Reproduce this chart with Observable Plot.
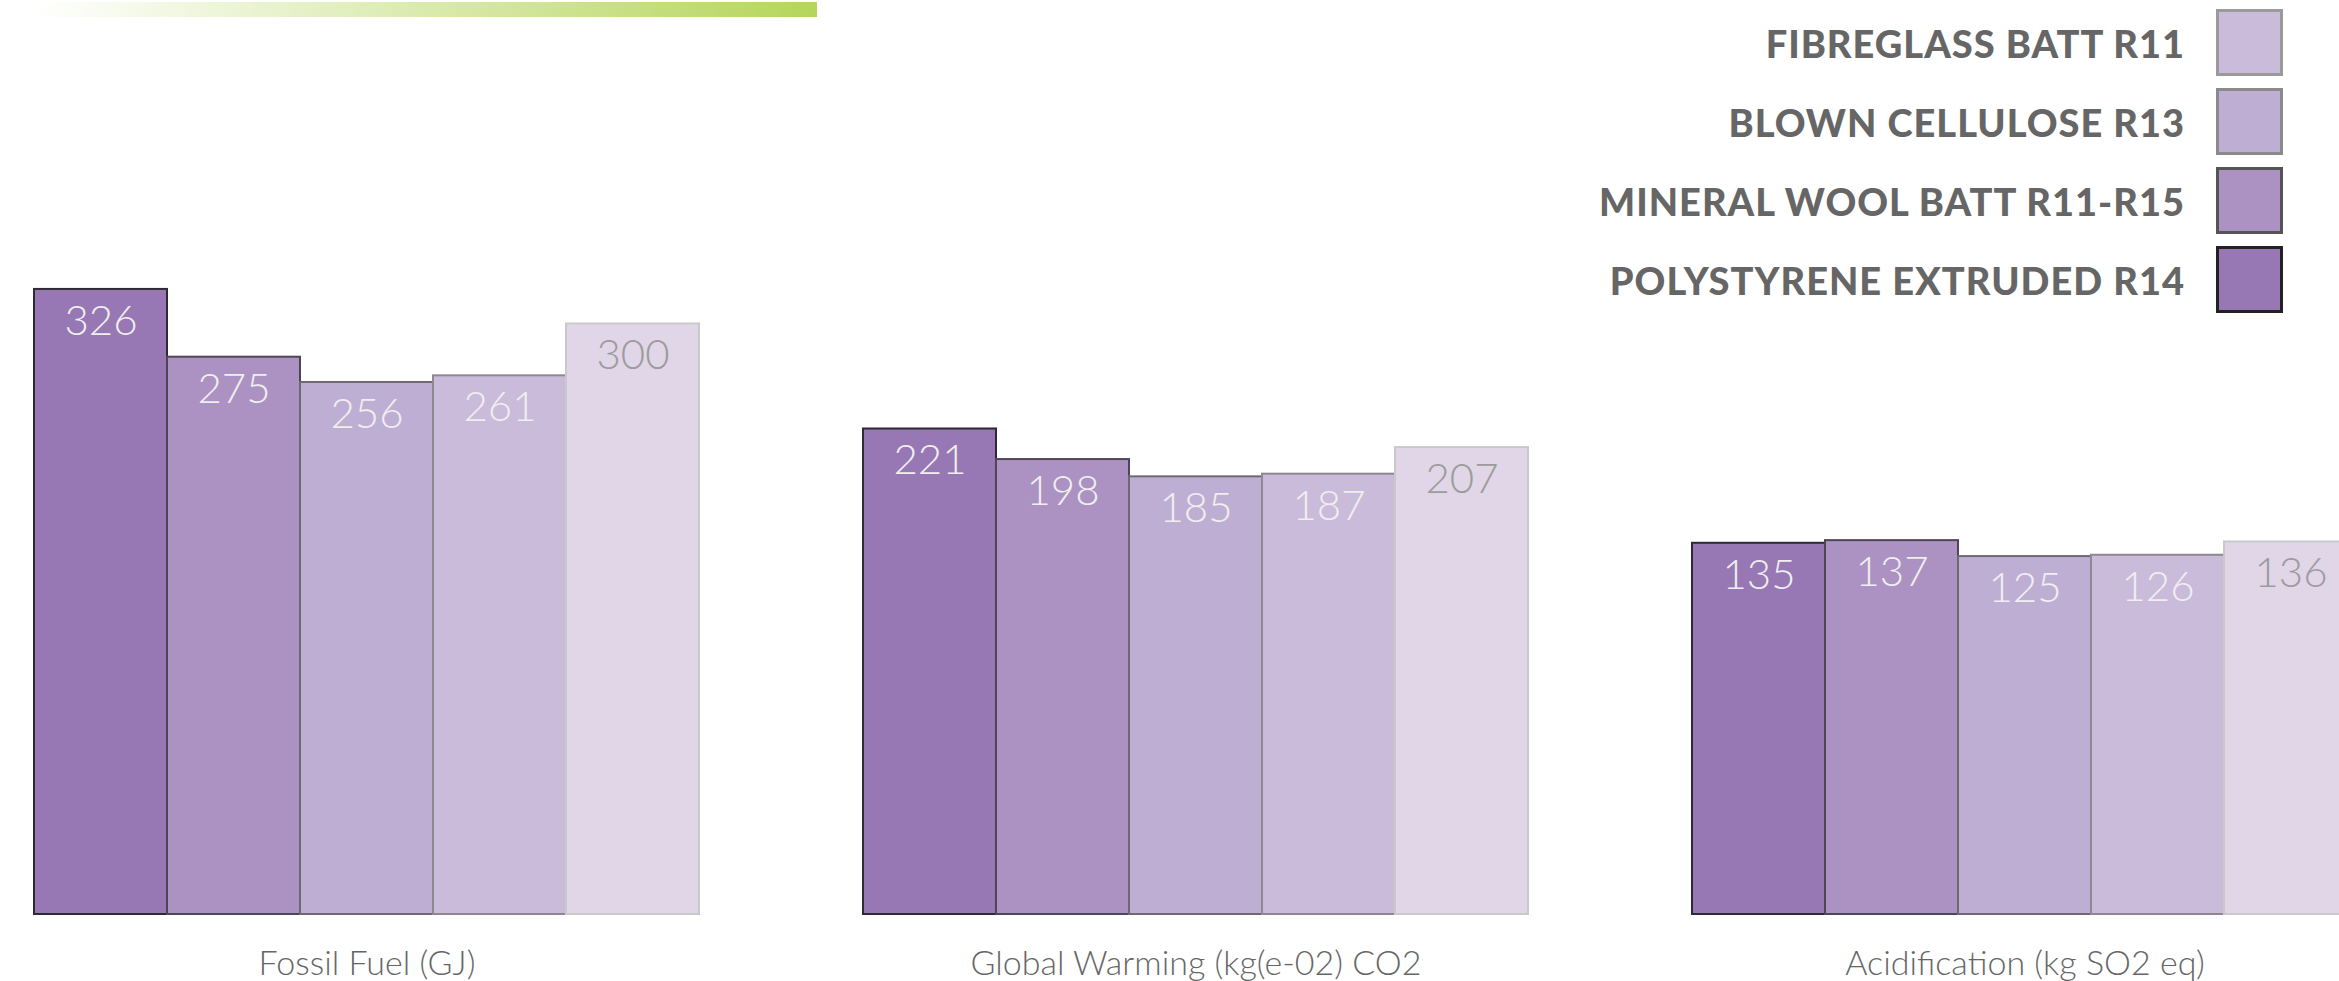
<!DOCTYPE html>
<html>
<head>
<meta charset="utf-8">
<script src="https://cdn.jsdelivr.net/npm/d3@7"></script>
<script src="https://cdn.jsdelivr.net/npm/@observablehq/plot@0.6"></script>
<style>
  html, body { margin: 0; padding: 0; background: #fff; overflow: hidden; }
  #wrap { position: relative; width: 2339px; height: 981px; overflow: hidden; }
  #band { position: absolute; left: 20px; top: 2px; width: 797px; height: 15px;
          background: linear-gradient(to right, rgba(255,255,255,1) 2%, #b5d55b 100%); }
  #legend { position: absolute; left: 0; top: 0; width: 2339px; height: 981px; pointer-events: none; }
  .row { position: absolute; right: 56px; height: 67px; display: flex; align-items: center; }
  .row span { font-family: Lato, "Open Sans", sans-serif; font-weight: 900; font-size: 38px; color: #666666; margin-right: 31px; letter-spacing: 1px; }
  .row i { display: block; width: 67px; height: 67px; box-sizing: border-box; border: 3px solid #999; }
  #chart { position: absolute; left: 0; top: 0; width: 2357px; }
  #chart svg { max-width: none !important; }
</style>
</head>
<body>
<div id="wrap">
  <div id="chart"></div>
  <div id="band"></div>
  <div id="legend"></div>
</div>
<script>
// ---- data ----
const metrics = ["Fossil Fuel (GJ)", "Global Warming (kg(e-02) CO2", "Acidification (kg SO2 eq)"];
const series = ["POLYSTYRENE EXTRUDED R14", "MINERAL WOOL BATT R11-R15", "BLOWN CELLULOSE R13", "FIBREGLASS BATT R11", "OTHER"];
const fossilFuel = [326, 275, 256, 261, 300];
const globalWarming = [221, 198, 185, 187, 207];
const acidification = [135, 137, 125, 126, 136];
const legendSeries = ["FIBREGLASS BATT R11", "BLOWN CELLULOSE R13", "MINERAL WOOL BATT R11-R15", "POLYSTYRENE EXTRUDED R14"];

// ---- styles ----
const fills = ["#9777b4", "#ab92c2", "#bfaed3", "#cabbdb", "#e0d6e8"];
const strokes = ["#2e2a33", "#4e4654", "#6e6873", "#8d8891", "#c9c9c9"];
const labelFills = ["#efefef", "#efefef", "#efefef", "#efefef", "#9c9c9c"];
const legendStrokes = {"FIBREGLASS BATT R11": "#9a9a9a", "BLOWN CELLULOSE R13": "#8a8a8a", "MINERAL WOOL BATT R11-R15": "#555555", "POLYSTYRENE EXTRUDED R14": "#222222"};
const yDomain = [-144.3, 543.4];

const valuesByMetric = [fossilFuel, globalWarming, acidification];
const data = metrics.flatMap((m, mi) => series.map((s, si) => ({metric: m, series: s, value: valuesByMetric[mi][si]})));
const fillOf = new Map(series.map((s, i) => [s, fills[i]]));

const barMarks = series.map((s, i) => Plot.barY(data, {
  filter: d => d.series === s,
  fx: "metric", x: "series", y1: yDomain[0], y2: "value",
  fill: "series", stroke: strokes[i], strokeWidth: 2
}));
const labelMarks = series.map((s, i) => Plot.text(data, {
  filter: d => d.series === s,
  fx: "metric", x: "series", y: "value", text: d => String(d.value),
  dy: 32, fill: labelFills[i], fontSize: 42, fontWeight: 300,
  fontFamily: "Lato, 'Open Sans', sans-serif"
}));

const chart = Plot.plot({
  width: 2357, height: 981,
  marginTop: 0, marginBottom: 67, marginLeft: 33, marginRight: 0,
  style: {background: "transparent", fontFamily: "Lato, 'Open Sans', sans-serif", overflow: "hidden", maxWidth: "none"},
  fx: {domain: metrics, paddingInner: 0.198, paddingOuter: 0, label: null},
  x: {domain: series, padding: 0, axis: null},
  y: {domain: yDomain, axis: null},
  color: {domain: series, range: fills},
  marks: [
    ...barMarks,
    ...labelMarks,
    Plot.axisFx({anchor: "bottom", tickSize: 0, tickPadding: 36, fontSize: 34, fill: "#666666", fontWeight: 300, label: null})
  ]
});
document.getElementById("chart").appendChild(chart);

// ---- legend ----
const legend = document.getElementById("legend");
legendSeries.forEach((s, i) => {
  const row = document.createElement("div");
  row.className = "row";
  row.style.top = (9 + i * 79) + "px";
  const t = document.createElement("span");
  t.textContent = s;
  const sw = document.createElement("i");
  sw.style.background = fillOf.get(s);
  sw.style.borderColor = legendStrokes[s];
  row.appendChild(t); row.appendChild(sw);
  legend.appendChild(row);
});
</script>
</body>
</html>
